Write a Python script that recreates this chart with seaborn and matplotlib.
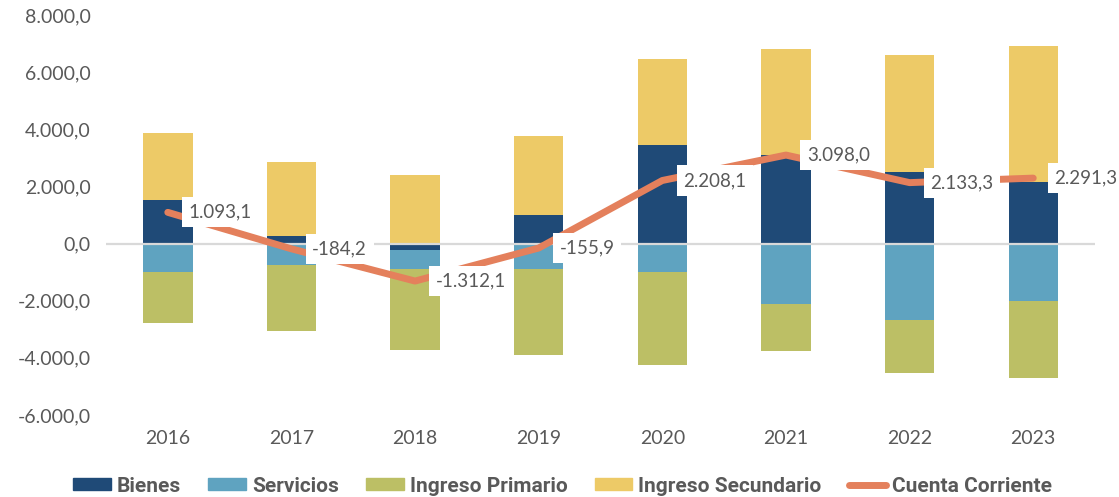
import matplotlib
matplotlib.use("Agg")
import matplotlib.pyplot as plt
import numpy as np
import pandas as pd
import seaborn as sns
from matplotlib.lines import Line2D
from matplotlib.patches import Patch
from matplotlib.ticker import FuncFormatter

# --------------------------------------------------------------------------- #
# Data (millones)
# --------------------------------------------------------------------------- #
years = ["2016", "2017", "2018", "2019", "2020", "2021", "2022", "2023"]
bienes = [1540, 255, -210, 1015, 3440, 3090, 2495, 2155]
servicios = [-980, -735, -665, -875, -995, -2100, -2660, -2020]
ingreso_primario = [-1796, -2310, -2835, -3035, -3265, -1670, -1870, -2670]
ingreso_secundario = [2335, 2615, 2405, 2740, 3030, 3710, 4095, 4775]
cuenta_corriente = [1093.1, -184.2, -1312.1, -155.9, 2208.1, 3098.0, 2133.3, 2291.3]

# --------------------------------------------------------------------------- #
# Styling
# --------------------------------------------------------------------------- #
C_BIENES = "#1f4a77"
C_SERV = "#5fa3c0"
C_PRIM = "#bcbf65"
C_SEC = "#edca67"
C_CC = "#e4805c"
TXT = "#595959"


def es_fmt(v):
    """Spanish number format: 1.234,5"""
    return f"{v:,.1f}".replace(",", "X").replace(".", ",").replace("X", ".")


sns.set_style("white")
plt.rcParams["font.family"] = ["Lato", "DejaVu Sans"]

df = pd.DataFrame({
    "year": years,
    "bienes": bienes,
    "servicios": servicios,
    "primario": ingreso_primario,
    "secundario": ingreso_secundario,
    "cc": cuenta_corriente,
})
bpos = df["bienes"].clip(lower=0)
bneg = df["bienes"].clip(upper=0)
# cumulative layers, drawn outermost first so inner layers overlay them
layers = [
    (bpos + df["secundario"], C_SEC),
    (bpos, C_BIENES),
    (bneg + df["servicios"] + df["primario"], C_PRIM),
    (bneg + df["servicios"], C_SERV),
    (bneg, C_BIENES),
]

fig = plt.figure(figsize=(11.19, 4.97), dpi=100)
ax = fig.add_axes([0.0947, 0.165, 0.8839, 0.8048])

for vals, col in layers:
    sns.barplot(x=df["year"], y=vals, color=col, width=0.4, ax=ax,
                saturation=1, linewidth=0, errorbar=None)

ax.axhline(0, color="#d9d9d9", lw=1.6, zorder=1.5)

sns.pointplot(x=df["year"], y=df["cc"], color=C_CC, ax=ax, markersize=0,
              linewidth=5, solid_capstyle="round", errorbar=None)
for line in ax.lines[1:]:
    line.set_zorder(3)

for i, v in enumerate(cuenta_corriente):
    ax.annotate(es_fmt(v), (i, v), xytext=(15, 0), textcoords="offset points",
                ha="left", va="center", fontsize=13.5, color=TXT,
                bbox=dict(boxstyle="square,pad=0.35", fc="white", ec="none"),
                zorder=4, annotation_clip=False)

ax.set_xlim(-0.5, 7.5)
ax.set_ylim(-6000, 8000)
ax.set_yticks(np.arange(-6000, 8001, 2000))
ax.yaxis.set_major_formatter(FuncFormatter(lambda v, _: es_fmt(v)))
ax.tick_params(axis="both", length=0, labelsize=14, labelcolor=TXT)
ax.tick_params(axis="y", pad=11)
ax.tick_params(axis="x", pad=11)
ax.set_xlabel("")
ax.set_ylabel("")
sns.despine(ax=ax, left=True, bottom=True)

handles = [
    Patch(color=C_BIENES),
    Patch(color=C_SERV),
    Patch(color=C_PRIM),
    Patch(color=C_SEC),
    Line2D([0], [0], color=C_CC, lw=5, solid_capstyle="round"),
]
labels = ["Bienes", "Servicios", "Ingreso Primario", "Ingreso Secundario", "Cuenta Corriente"]
fig.legend(handles, labels, loc="lower center", bbox_to_anchor=(0.503, -0.035), ncol=5,
           frameon=False, handlelength=1.8, handleheight=0.5, columnspacing=1.3,
           handletextpad=0.3,
           prop={"family": ["Roboto", "DejaVu Sans"], "weight": "bold", "size": 15},
           labelcolor=TXT)

fig.savefig("out.png", dpi=100)
